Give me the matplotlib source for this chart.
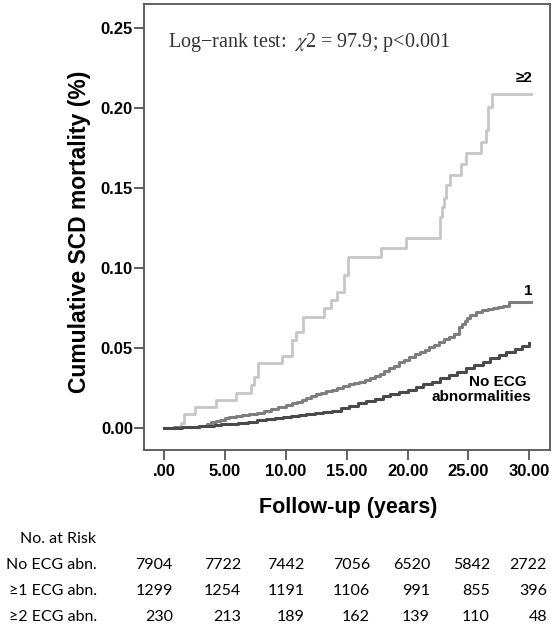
import matplotlib
matplotlib.use("Agg")
import matplotlib.pyplot as plt

# Kaplan-Meier style cumulative SCD mortality
t_two = [0, 1.40, 1.64, 2.55, 4.27, 5.92, 7.15, 7.40, 7.72, 9.70, 10.52, 10.85, 11.42,
         13.15, 13.72, 14.2, 14.8, 15.1, 17.8, 19.9, 22.7, 22.85, 23.0, 23.2, 23.5,
         24.4, 24.8, 26.05, 26.45, 26.6, 26.9, 30.15]
y_two = [0, 0.0031, 0.0088, 0.0131, 0.0175, 0.0219, 0.0269, 0.0319, 0.0406, 0.045,
         0.055, 0.060, 0.0694, 0.075, 0.080, 0.085, 0.0956, 0.107, 0.1125, 0.119,
         0.132, 0.138, 0.144, 0.152, 0.158, 0.165, 0.172, 0.179, 0.186, 0.2006,
         0.209, 0.209]

t_one = [0, 0.8, 1.5, 2.2, 2.9, 3.5, 3.9, 4.3, 4.6, 5.0, 5.3, 5.9, 6.4, 7.0, 7.6,
         8.2, 8.8, 9.4, 10.0, 10.5, 10.9, 11.3, 11.7, 12.1, 12.5, 12.9, 13.3, 13.8,
         14.2, 14.7, 15.2, 15.6, 16.0, 16.5, 16.9, 17.3, 17.7, 18.1, 18.5, 18.9,
         19.3, 19.7, 20.1, 20.6, 21.0, 21.4, 21.8, 22.2, 22.6, 23.0, 23.4, 23.8,
         24.2, 24.5, 24.7, 24.9, 25.1, 25.6, 26.1, 26.6, 27.0, 27.4, 27.8, 28.35,
         30.15]
y_one = [0, 0.0003, 0.0006, 0.0008, 0.001, 0.0025, 0.0037, 0.0044, 0.005, 0.0062,
         0.0069, 0.0075, 0.0081, 0.0088, 0.0094, 0.0106, 0.0119, 0.0131, 0.0144,
         0.0153, 0.0163, 0.0175, 0.0188, 0.02, 0.021, 0.022, 0.023, 0.024, 0.025,
         0.026, 0.0275, 0.0281, 0.029, 0.030, 0.031, 0.0325, 0.034, 0.0356, 0.0375,
         0.039, 0.041, 0.0425, 0.0444, 0.046, 0.0475, 0.049, 0.0506, 0.052, 0.054,
         0.0556, 0.057, 0.059, 0.063, 0.065, 0.067, 0.0688, 0.0706, 0.0725, 0.0738,
         0.0744, 0.075, 0.0756, 0.0763, 0.0788, 0.0788]

t_none = [0, 0.7, 1.5, 2.2, 2.9, 3.5, 4.1, 4.7, 5.3, 6.1, 6.9, 7.6, 8.4, 9.1, 9.8,
          10.4, 11.1, 11.7, 12.4, 13.1, 13.8, 14.5, 15.2, 15.9, 16.6, 17.3, 18.0,
          18.6, 19.3, 20.0, 20.7, 21.3, 22.0, 22.7, 23.4, 24.1, 24.8, 25.5, 26.2,
          26.8, 27.5, 28.1, 28.8, 29.4, 30.0]
y_none = [0, 0.0002, 0.0005, 0.0008, 0.0012, 0.0015, 0.0019, 0.0022, 0.0025, 0.0032,
          0.004, 0.0048, 0.0056, 0.0062, 0.0069, 0.0075, 0.0081, 0.0088, 0.0094,
          0.01, 0.0106, 0.0122, 0.0138, 0.0153, 0.0169, 0.0183, 0.0197, 0.0211,
          0.0225, 0.024, 0.0256, 0.0272, 0.0288, 0.0309, 0.033, 0.0352, 0.0375,
          0.0395, 0.0415, 0.0436, 0.0456, 0.0475, 0.0494, 0.0512, 0.0531]

xticks = [0, 5, 10, 15, 20, 25, 30]
xtick_labels = [".00", "5.00", "10.00", "15.00", "20.00", "25.00", "30.00"]
yticks = [0, 0.05, 0.10, 0.15, 0.20, 0.25]
ytick_labels = ["0.00", "0.05", "0.10", "0.15", "0.20", "0.25"]

risk_rows = ["No ECG abn.", "\u22651 ECG abn.", "\u22652 ECG abn."]
risk_none = [7904, 7722, 7442, 7056, 6520, 5842, 2722]
risk_one = [1299, 1254, 1191, 1106, 991, 855, 396]
risk_two = [230, 213, 189, 162, 139, 110, 48]

W, H = 555, 624
sans = ["Liberation Sans", "DejaVu Sans"]
plt.rcParams["mathtext.fontset"] = "stix"

fig = plt.figure(figsize=(W / 100, H / 100), dpi=100)
ax = fig.add_axes([144 / W, 1 - 450 / H, (550 - 144) / W, (450 - 4) / H])

ax.plot(t_two, y_two, drawstyle="steps-post", color="#c6c6c6", lw=2.0)
ax.plot(t_one, y_one, drawstyle="steps-post", color="#7e7e7e", lw=2.2)
ax.plot(t_none, y_none, drawstyle="steps-post", color="#4a4a4a", lw=2.2)

ax.set_xlim(-1.64, 31.7)
ax.set_ylim(-0.0138, 0.265)
ax.set_xticks(xticks)
ax.set_xticklabels(xtick_labels, family=sans, fontsize=12, fontweight="bold")
ax.set_yticks(yticks)
ax.set_yticklabels(ytick_labels, family=sans, fontsize=12, fontweight="bold")
ax.tick_params(axis="both", direction="out", length=7, width=1.3, color="#555555")
ax.tick_params(axis="x", pad=3)
ax.tick_params(axis="y", pad=1)
for sp in ax.spines.values():
    sp.set_color("#555555")
    sp.set_linewidth(1.3)

# curve labels
ax.text(29.6, 0.219, "\u22652", family=sans, fontsize=11, fontweight="bold",
        ha="center", va="center")
ax.text(29.9, 0.0856, "1", family=sans, fontsize=11, fontweight="bold",
        ha="center", va="center")
ax.text(30.15, 0.0238, "No ECG \nabnormalities", family=sans, fontsize=11,
        fontweight="bold", ha="right", va="center", multialignment="right",
        linespacing=1.1)

fig.text(168 / W, 1 - 43 / H, "Log\u2212rank test:  $\\chi$2 = 97.9; p<0.001",
         family=["Liberation Serif", "DejaVu Serif"], fontsize=14.5,
         ha="left", va="center", color="#333333")

fig.text(80 / W, 1 - 232 / H, "Cumulative SCD mortality (%)", family=sans,
         fontsize=16.5, fontweight="bold", rotation=90, ha="center", va="center")
fig.text(348 / W, 1 - 508 / H, "Follow-up (years)", family=sans,
         fontsize=15.5, fontweight="bold", ha="center", va="center")

# number at risk table
table_font = ["Lato", "DejaVu Sans"]
col_right = [173, 241, 305, 370, 430, 490, 547]
row_y = [565, 591, 617]
fig.text(96 / W, 1 - 539 / H, "No. at Risk", family=table_font, fontsize=11.5,
         ha="right", va="center")
for label, counts, yy in zip(risk_rows, [risk_none, risk_one, risk_two], row_y):
    fig.text(97 / W, 1 - yy / H, label, family=table_font, fontsize=11.5,
             ha="right", va="center")
    for xr, n in zip(col_right, counts):
        fig.text(xr / W, 1 - yy / H, str(n), family=table_font, fontsize=11.5,
                 ha="right", va="center")

fig.savefig("out.png", dpi=100)
